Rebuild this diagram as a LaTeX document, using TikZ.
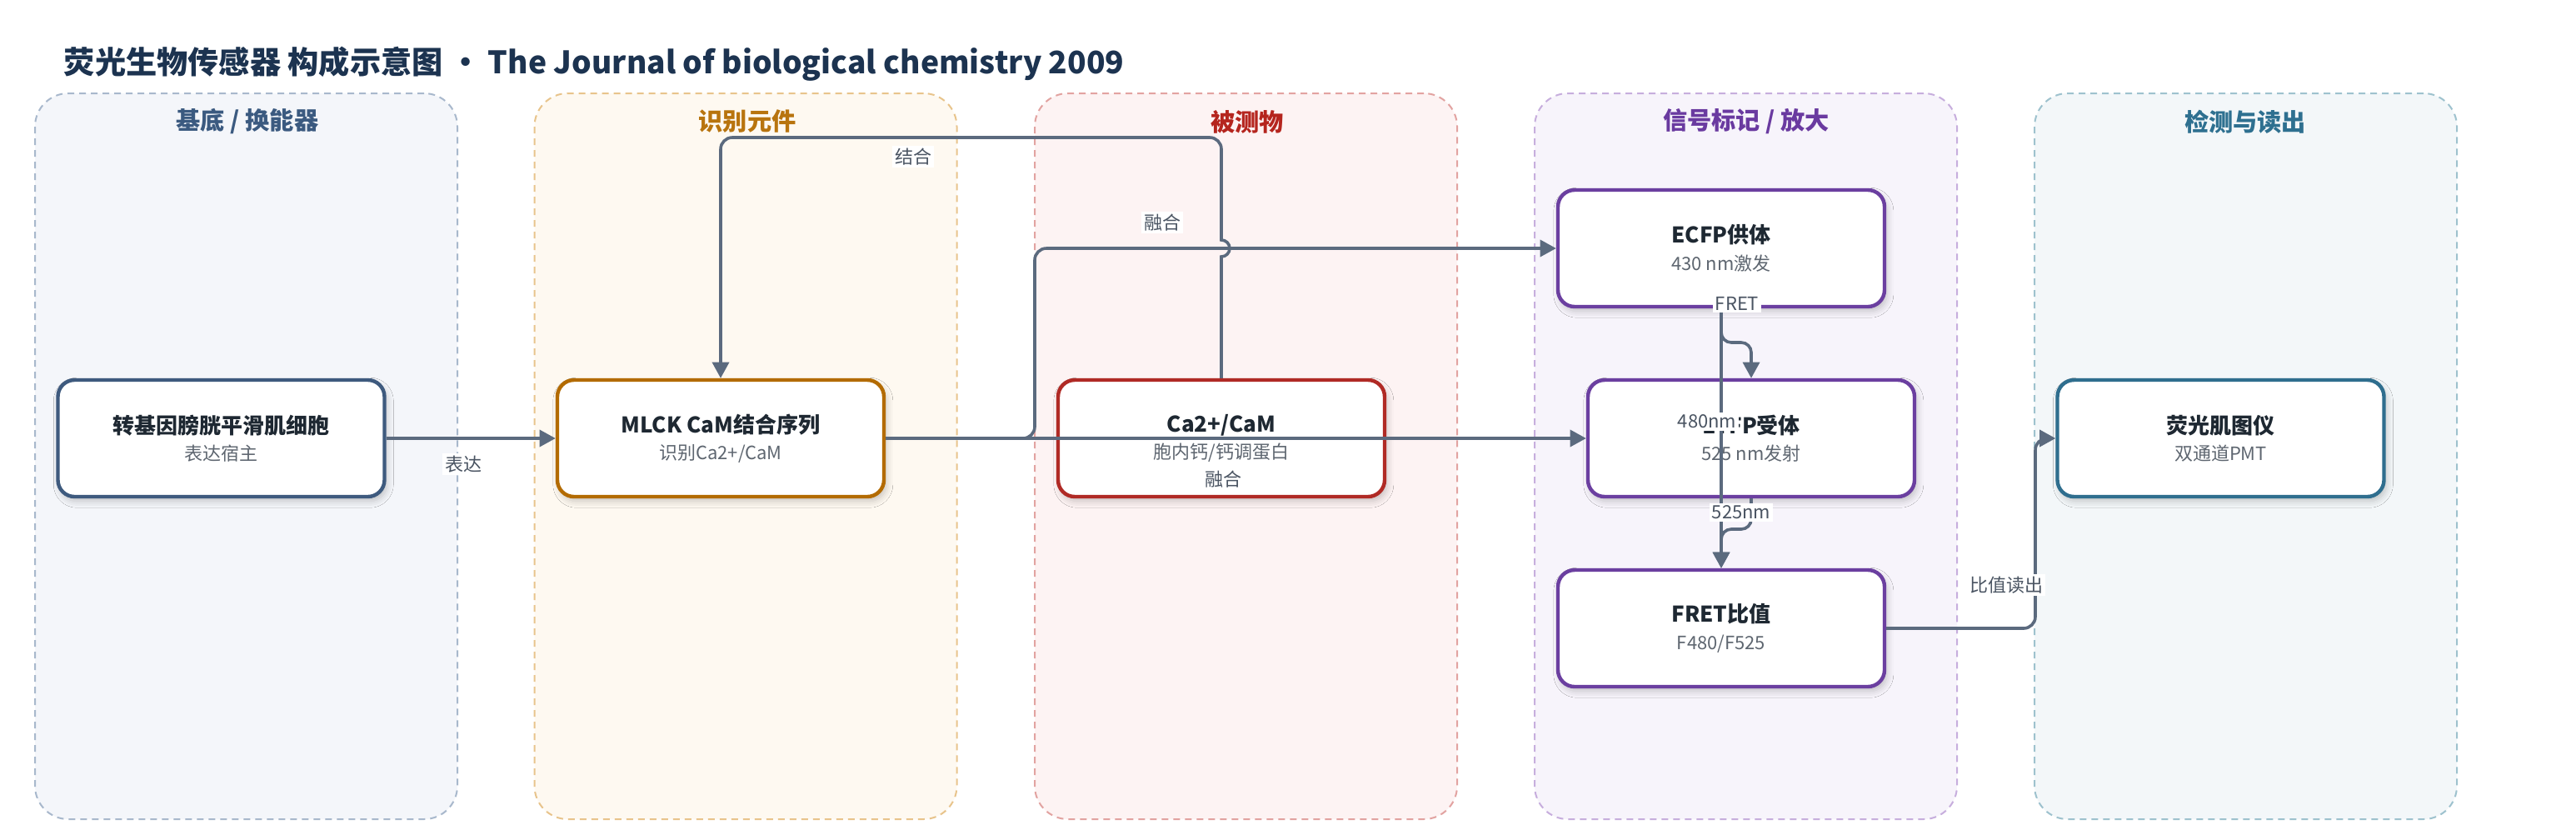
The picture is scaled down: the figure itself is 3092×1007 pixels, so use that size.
\documentclass[tikz,border=0pt]{standalone}
\usepackage{fontspec}
\setmainfont{Noto Sans CJK SC}
\usetikzlibrary{arrows.meta,shadows.blur}
\definecolor{ttl}{HTML}{1C3350}
\definecolor{cA}{HTML}{3E5A7E}
\definecolor{cAt}{HTML}{3B5A80}
\definecolor{cAbg}{HTML}{F4F6FA}
\definecolor{cAbd}{HTML}{A8B8CC}
\definecolor{cB}{HTML}{B36B00}
\definecolor{cBt}{HTML}{B8740E}
\definecolor{cBbg}{HTML}{FEF9F1}
\definecolor{cBbd}{HTML}{E8C48C}
\definecolor{cC}{HTML}{B02A25}
\definecolor{cCt}{HTML}{B5251E}
\definecolor{cCbg}{HTML}{FDF3F3}
\definecolor{cCbd}{HTML}{E2A3A1}
\definecolor{cD}{HTML}{6B3FA0}
\definecolor{cDt}{HTML}{6A3AA0}
\definecolor{cDbg}{HTML}{F7F4FB}
\definecolor{cDbd}{HTML}{C7AEDD}
\definecolor{cE}{HTML}{2F6E8E}
\definecolor{cEt}{HTML}{2E7090}
\definecolor{cEbg}{HTML}{F3F7F9}
\definecolor{cEbd}{HTML}{9EC2CE}
\definecolor{connc}{HTML}{5B6A7E}
\definecolor{ntxt}{HTML}{1E2832}
\definecolor{stxt}{HTML}{5E6670}
\definecolor{ltxt}{HTML}{4A5462}
\newcommand{\boxtxt}[2]{{\fontsize{6.5pt}{8.1pt}\selectfont\bfseries\color{ntxt}#1}\\{\color{stxt}#2}}
\tikzset{
  lane/.style={draw=#1, line width=0.5pt, dash pattern=on 2pt off 1.5pt, rounded corners=10pt,
    minimum width=126.75pt, minimum height=217.75pt, inner sep=0pt},
  lanetitle/.style={text=#1, font=\fontsize{7.3pt}{9pt}\selectfont\bfseries, inner sep=0pt},
  box/.style={draw=#1, line width=1.1pt, rounded corners=5pt, fill=white,
    minimum width=98pt, minimum height=35pt, align=center, inner sep=0pt,
    font=\fontsize{5.5pt}{8.1pt}\selectfont,
    blur shadow={shadow xshift=0.7pt, shadow yshift=-1.3pt, shadow blur radius=2pt, shadow opacity=22}},
  conn/.style={draw=connc, line width=0.9pt, -{Triangle[length=4.8pt,width=5pt]}},
  lbl/.style={fill=white, inner sep=0.8pt, text=ltxt, font=\fontsize{5.5pt}{6.5pt}\selectfont},
}
\begin{document}
\begin{tikzpicture}[x=0.25pt,y=-0.25pt]
\useasboundingbox (0,0) rectangle (3092,1007);
\fill[white] (0,0) rectangle (3092,1007);

% lanes
\node[lane=cAbd, fill=cAbg] (laneA) at (295.5,547.5) {};
\node[lane=cBbd, fill=cBbg] (laneB) at (895,547.5) {};
\node[lane=cCbd, fill=cCbg] (laneC) at (1495.5,547.5) {};
\node[lane=cDbd, fill=cDbg] (laneD) at (2095.5,547.5) {};
\node[lane=cEbd, fill=cEbg] (laneE) at (2695.5,547.5) {};
\node[lanetitle=cAt] (tA) at (297,146) {基底 / 换能器};
\node[lanetitle=cBt] (tB) at (897,146) {识别元件};
\node[lanetitle=cCt] (tC) at (1497,146) {被测物};
\node[lanetitle=cDt] (tD) at (2096,146) {信号标记 / 放大};
\node[lanetitle=cEt] (tE) at (2695,146) {检测与读出};

% title
\node[anchor=west, text=ttl, inner sep=0pt, font=\fontsize{9.3pt}{11pt}\selectfont\bfseries] (title) at (76,77)
  {荧光生物传感器 构成示意图 • The Journal of biological chemistry 2009};

% nodes
\node[box=cA] (n1) at (265.5,526) {\boxtxt{转基因膀胱平滑肌细胞}{表达宿主}};
\node[box=cB] (n2) at (865,526) {\boxtxt{MLCK CaM结合序列}{识别Ca2+/CaM}};
\node[box=cC] (n3) at (1466,526) {\boxtxt{Ca2+/CaM}{胞内钙/钙调蛋白}};
\node[box=cD] (n4) at (2066,298) {\boxtxt{ECFP供体}{430 nm激发}};
\node[box=cD] (n5) at (2102,526) {\boxtxt{EYFP受体}{525 nm发射}};
\node[box=cD] (n6) at (2066,754) {\boxtxt{FRET比值}{F480/F525}};
\node[box=cE] (n7) at (2665.5,526) {\boxtxt{荧光肌图仪}{双通道PMT}};

% connectors
\draw[conn] (n1.east) -- (n2.west);
\draw[conn, rounded corners=3.5pt] (n2.east) -- (1242,526) -- (1242,298) -- (n4.west);
\draw[conn] (n2.east) -- (n5.west);
\draw[conn] (n3.north) -- (1466,308) arc[start angle=-90,end angle=90,radius=2.5pt]
  -- (1466,250) [rounded corners=3.5pt] -- (1466,165) -- (n2.north |- 0,165) -- (n2.north);
\draw[conn, rounded corners=3pt] (n4.south) -- (n4.south |- 0,411) -- (n5.north |- 0,411) -- (n5.north);
\draw[conn] (n4.south) -- (n6.north);
\draw[conn, rounded corners=3pt] (n5.south) -- (n5.south |- 0,635) -- (n6.north |- 0,635) -- (n6.north);
\draw[conn, rounded corners=3.5pt] (n6.east) -- (2443,754) -- (2443,526) -- (n7.west);

% labels
\node[lbl] (lb1) at (556,557) {表达};
\node[lbl] (lb2) at (1096,188) {结合};
\node[lbl] (lb3) at (1395,267) {融合};
\node[lbl] (lb4) at (1468,575) {融合};
\node[lbl] (lb5) at (2085,364) {FRET};
\node[lbl] (lb6) at (2049,506) {480nm};
\node[lbl] (lb7) at (2090,615) {525nm};
\node[lbl] (lb8) at (2408,702) {比值读出};
\end{tikzpicture}
\end{document}
